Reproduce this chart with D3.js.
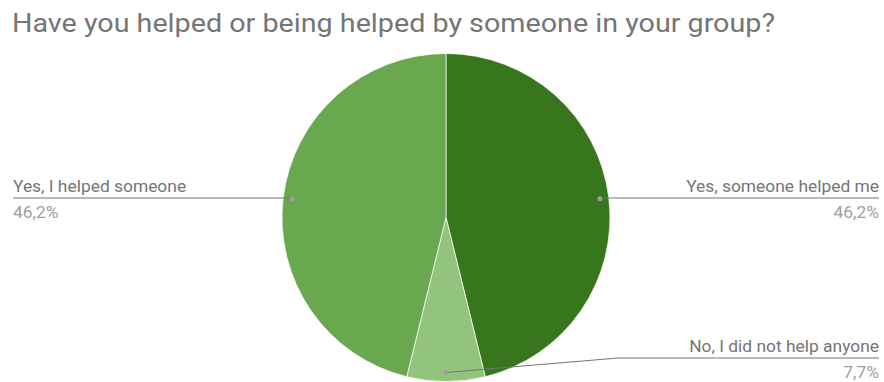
<!DOCTYPE html>
<html><head><meta charset="utf-8">
<script src="https://cdn.jsdelivr.net/npm/d3@7"></script>
<style>body{margin:0;background:#fff}svg{display:block}</style>
</head><body>
<script>
const title = "Have you helped or being helped by someone in your group?";
const categories = ["Yes, someone helped me", "No, I did not help anyone", "Yes, I helped someone"];
const values = [6, 1, 6];
const colors = ["#38761d", "#93c47d", "#6aa84f"];

const W = 884, H = 382;
const cx = 446, cy = 217.5, R = 164;
const svg = d3.select("body").append("svg").attr("width", W).attr("height", H)
  .style("font-family", "Roboto, sans-serif");

svg.append("text").attr("x", 12).attr("y", 32).attr("fill", "#757575")
  .attr("font-size", 26).attr("textLength", 763).attr("lengthAdjust", "spacingAndGlyphs")
  .text(title);

const total = d3.sum(values);
const pie = d3.pie().sort(null).value(d => d)(values);
const arc = d3.arc().innerRadius(0).outerRadius(R);
const g = svg.append("g").attr("transform", `translate(${cx},${cy})`);
g.selectAll("path").data(pie).join("path")
  .attr("d", arc).attr("fill", (d, i) => colors[i])
  .attr("stroke", "#fff").attr("stroke-width", 0.7);

const fmt = v => (Math.round(v / total * 1000) / 10).toFixed(1).replace(".", ",") + "%";
const dotR = 155;
const layout = [
  {side: "right", y: 198, elbow: null},
  {side: "right", y: 358, elbow: 618},
  {side: "left", y: 198, elbow: null}
];
pie.forEach((d, i) => {
  const a = (d.startAngle + d.endAngle) / 2;
  const px = cx + Math.sin(a) * dotR, py = cy - Math.cos(a) * dotR;
  const L = layout[i];
  const endX = L.side === "right" ? 879 : 13;
  let pts = [[px, py]];
  if (L.elbow !== null) pts.push([L.elbow, L.y]); else pts.push([px, L.y]);
  pts.push([endX, L.y]);
  svg.append("path").attr("d", d3.line()(pts)).attr("fill", "none")
    .attr("stroke", "#757575").attr("stroke-width", 1);
  svg.append("circle").attr("cx", px).attr("cy", py).attr("r", 2.5).attr("fill", "#9e9e9e");
  const anchor = L.side === "right" ? "end" : "start";
  svg.append("text").attr("x", endX).attr("y", L.y - 6).attr("text-anchor", anchor)
    .attr("font-size", 17.4).attr("fill", "#757575").text(categories[i]);
  svg.append("text").attr("x", endX).attr("y", L.y + 20).attr("text-anchor", anchor)
    .attr("font-size", 17.4).attr("fill", "#a0a0a0").text(fmt(values[i]));
});
</script>
</body></html>
